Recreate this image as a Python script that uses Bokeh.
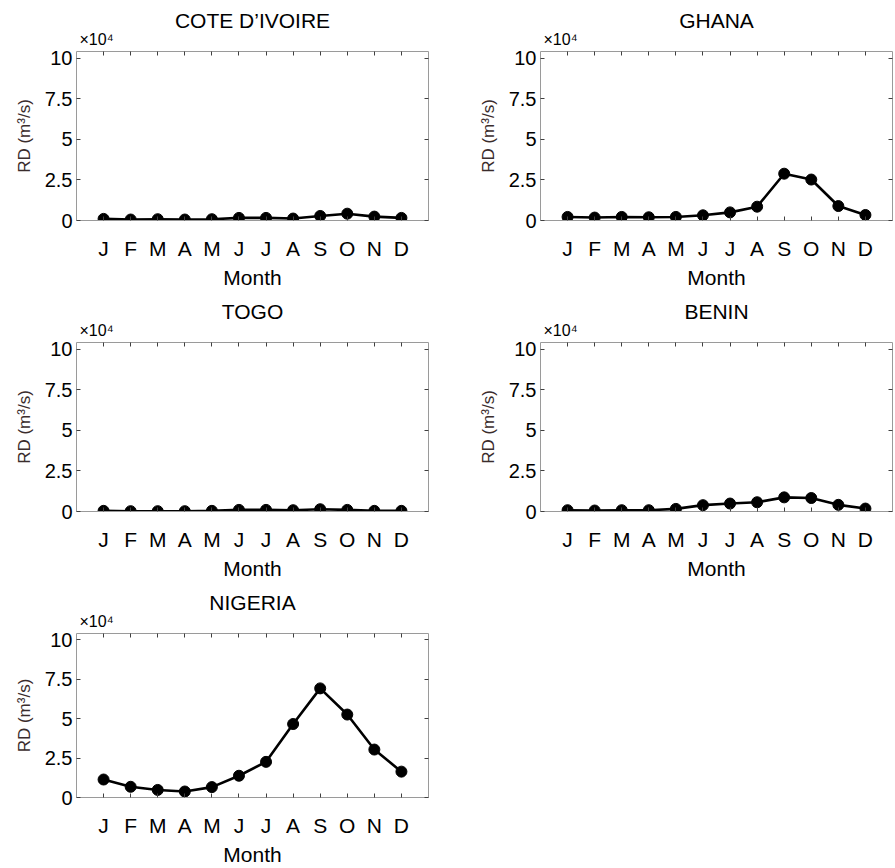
from bokeh.plotting import figure
from bokeh.models import LinearAxis, Range1d, FixedTicker, Title, ColumnDataSource, Spacer
from bokeh.layouts import column, row
from bokeh.embed import file_html
from bokeh.resources import INLINE

# ---- data (values in units of 10^4 m^3/s) ----
months = ["J", "F", "M", "A", "M", "J", "J", "A", "S", "O", "N", "D"]
month_pos = list(range(1, 13))
cote_divoire = [0.10, 0.06, 0.08, 0.06, 0.08, 0.16, 0.16, 0.12, 0.28, 0.42, 0.24, 0.16]
ghana = [0.22, 0.18, 0.22, 0.20, 0.22, 0.32, 0.50, 0.85, 2.88, 2.52, 0.89, 0.34]
togo = [0.04, 0.02, 0.02, 0.02, 0.04, 0.10, 0.10, 0.08, 0.14, 0.10, 0.04, 0.04]
benin = [0.08, 0.06, 0.08, 0.08, 0.16, 0.39, 0.49, 0.57, 0.87, 0.83, 0.41, 0.18]
nigeria = [1.14, 0.68, 0.48, 0.38, 0.66, 1.38, 2.26, 4.66, 6.92, 5.26, 3.04, 1.64]
y_ticks = [0, 2.5, 5, 7.5, 10]
y_tick_labels = ["0", "2.5", "5", "7.5", "10"]

FONT = "Liberation Sans"
AXIS_COLOR = "#9a9a9a"
TICK_COLOR = "#404040"


def style_axis(ax):
    ax.axis_line_color = AXIS_COLOR
    ax.axis_line_width = 1
    ax.major_tick_line_color = TICK_COLOR
    ax.major_tick_in = 4
    ax.major_tick_out = 0
    ax.minor_tick_line_color = None


def mirror_axis(ticks):
    ax = LinearAxis(ticker=FixedTicker(ticks=ticks),
                    major_label_overrides={t: "" for t in ticks})
    style_axis(ax)
    ax.major_label_standoff = 0
    ax.major_label_text_font_size = "2px"
    return ax


def make_panel(title, values, width, left, right, height, bottom):
    p = figure(width=width, height=height,
               x_range=Range1d(0, 13), y_range=Range1d(0, 10.4),
               output_backend="svg", toolbar_location=None,
               x_axis_location=None, y_axis_location=None,
               min_border_left=left, min_border_right=right,
               min_border_top=51, min_border_bottom=bottom)
    p.outline_line_color = None
    p.xgrid.visible = False
    p.ygrid.visible = False
    p.background_fill_color = "white"
    p.border_fill_color = "white"

    # bottom x axis
    xb = LinearAxis(ticker=FixedTicker(ticks=month_pos),
                    major_label_overrides={m: lab for m, lab in zip(month_pos, months)})
    style_axis(xb)
    xb.major_label_text_font = FONT
    xb.major_label_text_font_size = "21px"
    xb.major_label_text_color = "black"
    xb.major_label_standoff = 16
    xb.axis_label = "Month"
    xb.axis_label_text_font = FONT
    xb.axis_label_text_font_style = "normal"
    xb.axis_label_text_font_size = "21px"
    xb.axis_label_text_color = "black"
    xb.axis_label_standoff = 3
    p.add_layout(xb, "below")

    # top mirror axis
    p.add_layout(mirror_axis(month_pos), "above")

    # left y axis
    yl = LinearAxis(ticker=FixedTicker(ticks=y_ticks),
                    major_label_overrides={t: lab for t, lab in zip(y_ticks, y_tick_labels)})
    style_axis(yl)
    yl.major_label_text_font = FONT
    yl.major_label_text_font_size = "20px"
    yl.major_label_text_color = "black"
    yl.major_label_standoff = 4
    yl.axis_label = "RD (m\u00b3/s)"
    yl.axis_label_text_font = FONT
    yl.axis_label_text_font_style = "normal"
    yl.axis_label_text_font_size = "17px"
    yl.axis_label_text_color = "#3a2c2c"
    yl.axis_label_standoff = 8
    p.add_layout(yl, "left")

    # right mirror axis
    p.add_layout(mirror_axis(y_ticks), "right")

    src = ColumnDataSource(dict(x=month_pos, y=values))
    p.line("x", "y", source=src, line_color="black", line_width=2.6)
    p.scatter("x", "y", source=src, marker="circle", size=11,
              fill_color="black", line_color="black")

    p.add_layout(Title(text="\u00d710\u2074", align="left", offset=3, standoff=7,
                       text_font=FONT, text_font_size="16px",
                       text_font_style="normal", text_color="black"), "above")
    p.add_layout(Title(text=title, align="center", standoff=-12,
                       text_font=FONT, text_font_size="21px",
                       text_font_style="normal", text_color="black"), "above")
    return p


p1 = make_panel("COTE D\u2019IVOIRE", cote_divoire, 460, 76, 32, 291, 66)
p2 = make_panel("GHANA", ghana, 435, 80, 3, 291, 66)
p3 = make_panel("TOGO", togo, 460, 76, 32, 291, 66)
p4 = make_panel("BENIN", benin, 435, 80, 3, 291, 66)
p5 = make_panel("NIGERIA", nigeria, 460, 76, 32, 286, 61)

layout = column(row(p1, p2), row(p3, p4), row(p5, Spacer(width=435, height=286)))

with open("out.html", "w") as f:
    f.write(file_html(layout, INLINE))
